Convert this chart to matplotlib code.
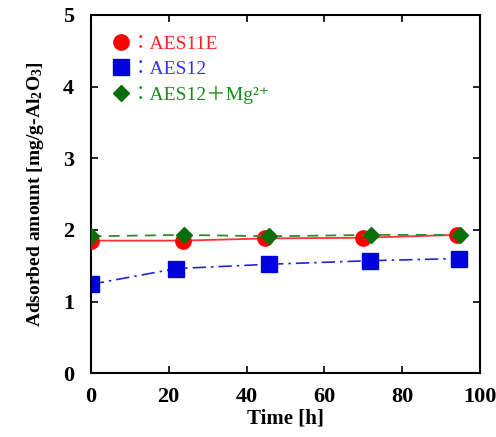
import matplotlib
matplotlib.use("Agg")
import matplotlib.pyplot as plt

# Datos
t_red = [0, 23.7, 44.7, 70, 94]
y_red = [1.85, 1.85, 1.88, 1.89, 1.93]

t_blue = [0, 22, 45.8, 71.7, 94.6]
y_blue = [1.24, 1.46, 1.52, 1.57, 1.60]

t_green = [0, 23.9, 45.8, 71.9, 94.9]
y_green = [1.91, 1.93, 1.91, 1.93, 1.93]

plt.rcParams['font.family'] = ['Liberation Serif', 'Noto Sans CJK JP', 'DejaVu Serif']
plt.rcParams['mathtext.default'] = 'regular'

fig = plt.figure(figsize=(4.96, 4.37), dpi=100)
ax = fig.add_axes([0.183, 0.146, 0.785, 0.82])

ax.plot(t_blue, y_blue, color="#2222dd", ls=(0, (8, 3, 1.5, 3)), lw=1.2,
        marker="s", ms=11, mfc="#0000dd", mec="#0000dd", label="：AES12", zorder=2)
ax.plot(t_red, y_red, color="#ff3333", ls="-", lw=1.3,
        marker="o", ms=11, mfc="#ff0000", mec="#ff0000", label="：AES11E", zorder=3)
ax.plot(t_green, y_green, color="#2e8b2e", ls=(0, (6, 4)), lw=1.3,
        marker="D", ms=8, mfc="#0a6e0a", mec="#0a6e0a", label="：AES12＋Mg²⁺", zorder=4)

ax.set_xlim(0, 100)
ax.set_ylim(0, 5)
ax.set_xticks([0, 20, 40, 60, 80, 100])
ax.set_yticks([0, 1, 2, 3, 4, 5])
ax.tick_params(direction="in", top=True, right=True, length=5, width=1.2,
               labelsize=16)
ax.tick_params(axis="y", pad=12)
ax.tick_params(axis="x", pad=10)
for lab in ax.get_xticklabels() + ax.get_yticklabels():
    lab.set_fontweight("bold")
for s in ax.spines.values():
    s.set_linewidth(1.5)

ax.set_xlabel("Time [h]", fontsize=15, fontweight="bold", labelpad=1)
ax.set_ylabel("Adsorbed amount [mg/g-Al$_2$O$_3$]", fontsize=14,
              fontweight="bold", labelpad=12)

handles, labels = ax.get_legend_handles_labels()
orden = [1, 0, 2]
leg = ax.legend([handles[i] for i in orden], [labels[i] for i in orden],
                loc="upper left", frameon=False, fontsize=14, handlelength=1.0,
                handletextpad=0.0, labelspacing=0.4, borderaxespad=0.6,
                borderpad=0.45)
for h in leg.legend_handles:
    h.set_linestyle("none")
for txt, c in zip(leg.get_texts(), ["#ff2020", "#3333ff", "#1a8a1a"]):
    txt.set_color(c)

fig.savefig("out.png", dpi=100)
